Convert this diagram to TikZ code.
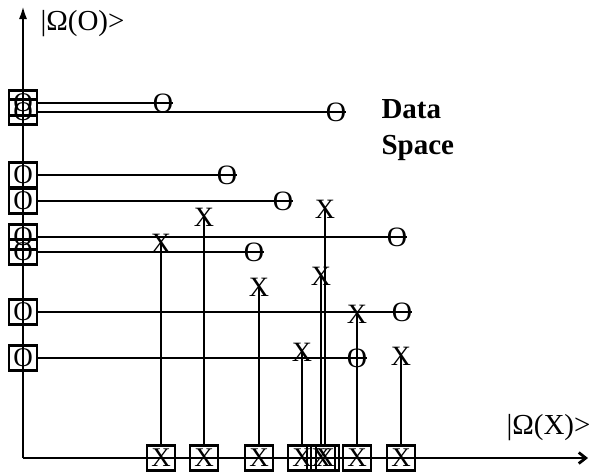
\documentclass[tikz,border=0pt]{standalone}
\usepackage{fontspec}
\setmainfont{Liberation Serif}
\usetikzlibrary{arrows.meta}
\begin{document}
\begin{tikzpicture}[x=1pt,y=-1pt,
  axisline/.style={line width=2.8pt},
  link/.style={line width=1.5pt},
  ptmark/.style={inner sep=0pt,font=\fontsize{28}{28}\selectfont},
  ptbox/.style={draw,line width=2.2pt,minimum width=28pt,minimum height=25pt,
    inner sep=0pt,font=\fontsize{27}{27}\selectfont}]
\useasboundingbox (0,0) rectangle (591,472);
\coordinate (orig) at (23,458);
\coordinate (ytop) at (23,5);
\coordinate (xend) at (588,458);
\draw[axisline,-{Latex[length=14pt,width=8pt]}] (orig) -- (ytop);
\draw[axisline,-{Straight Barb[length=7pt,width=11pt]}] (orig) -- (xend);

% O points, projected on the vertical axis
\foreach \y/\x [count=\i] in {103/163,112/336,175/227,201/283,237/397,252/254,312/402,358/357} {
  \node[ptbox] (bo\i) at (23,\y) {O};
  \node[ptmark] (o\i) at (\x,\y) {O};
  \draw[link] (bo\i.east) -- (o\i.east);
}

% X points, projected on the horizontal axis
\foreach \x/\y [count=\i] in {161/243,204/217,259/287,302/352,321/276,325/209,357/314,401/356} {
  \node[ptbox] (bx\i) at (\x,458) {X};
  \node[ptmark] (x\i) at (\x,\y) {X};
  \draw[link] (bx\i.north) -- (x\i.center);
}

\node[anchor=west,font=\fontsize{29}{29}\selectfont] (omega o) at (37,24) {|Ω(O)>};
\node[anchor=west,font=\fontsize{29}{29}\selectfont] (omega x) at (503,428) {|Ω(X)>};
\node[anchor=north west,align=left,font=\bfseries\fontsize{29}{36}\selectfont] (dspace) at (378,96) {Data\\Space};
\end{tikzpicture}
\end{document}
